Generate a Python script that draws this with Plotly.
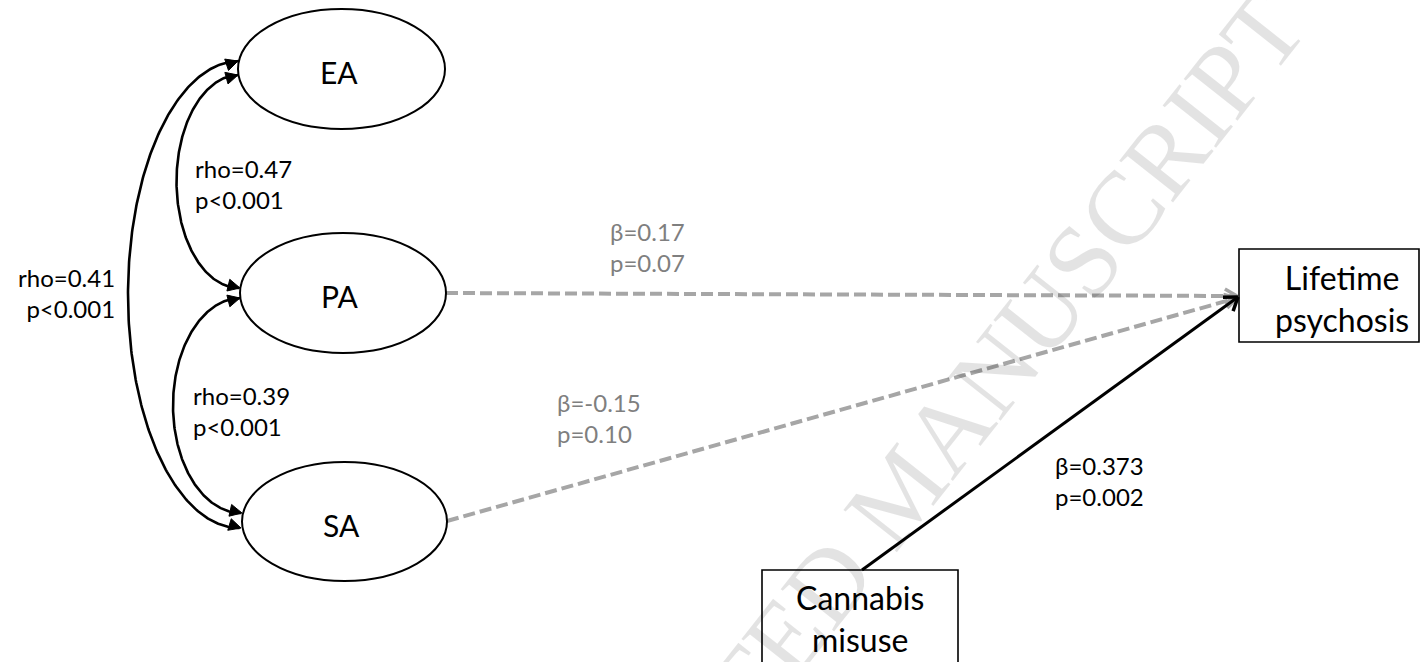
import numpy as np
import plotly.graph_objects as go

# ---------------- data ----------------
latent = ["EA", "PA", "SA"]
outcome_label = "Lifetime<br>psychosis"
exposure_label = "Cannabis<br>misuse"

rho_pairs = [("EA", "PA"), ("PA", "SA"), ("EA", "SA")]
rho_vals = [0.47, 0.39, 0.41]
rho_p = ["p<0.001", "p<0.001", "p<0.001"]

path_from = ["PA", "SA", "Cannabis"]
beta_vals = [0.17, -0.15, 0.373]
beta_p = ["p=0.07", "p=0.10", "p=0.002"]
beta_sig = [False, False, True]

watermark = "ACCEPTED MANUSCRIPT"

# ---------------- layout geometry (pixels) ----------------
W, H = 1421, 662
ELL = {"EA": (238, 9, 445, 129), "PA": (240, 233, 446, 353), "SA": (242, 462, 447, 581)}
BOX = {"Lifetime": (1239, 249, 1419, 342), "Cannabis": (762, 570, 958, 700)}
BOX_TEXT = {"Lifetime": (1342, 298), "Cannabis": (860, 618)}
CURVES = {("EA", "PA"): ((238, 75), (240, 288), 176.5),
          ("PA", "SA"): ((240, 298), (242, 513), 173),
          ("EA", "SA"): ((238, 61), (241, 528), 128)}
RHO_POS = {("EA", "PA"): (193, 184, "left"),
           ("PA", "SA"): (191, 411, "left"),
           ("EA", "SA"): (117, 292.5, "right")}
PATHS = {"PA": ((446, 293), (1237, 296)),
         "SA": ((447, 521), (1237, 298)),
         "Cannabis": ((862, 570), (1238, 297))}
BETA_POS = {"PA": (608, 246.5), "SA": (555, 417.5), "Cannabis": (1053, 481)}

FONT = "Lato, 'Open Sans', sans-serif"
GRAY_LINE = "#a6a6a6"
GRAY_TEXT = "#7f7f7f"

fig = go.Figure()


def tri(tip, d, L=12, w=6):
    d = np.array(d, float)
    d /= np.linalg.norm(d)
    n = np.array([-d[1], d[0]])
    tip = np.array(tip, float)
    base = tip - L * d
    p1, p2 = base + w * n, base - w * n
    return [tip[0], p1[0], p2[0], tip[0]], [tip[1], p1[1], p2[1], tip[1]]


def vhead(tip, d, L=15, ang=35):
    d = np.array(d, float)
    d /= np.linalg.norm(d)
    xs, ys = [], []
    for s in (1, -1):
        a = np.radians(s * ang)
        r = np.array([d[0] * np.cos(a) - d[1] * np.sin(a), d[0] * np.sin(a) + d[1] * np.cos(a)])
        p = np.array(tip) - L * r
        xs += [p[0], tip[0]]
        ys += [p[1], tip[1]]
        if s == 1:
            xs.append(None); ys.append(None)
    return xs, ys


# correlation curves (half-ellipse arcs) with filled arrowheads at both ends
for pair in rho_pairs:
    (xt, yt), (xb, yb), xl = CURVES[pair]
    cx, cy = (xt + xb) / 2, (yt + yb) / 2
    b = (yb - yt) / 2
    a = cx - xl
    th = np.linspace(0, np.pi, 240)
    fig.add_trace(go.Scatter(x=cx - a * np.sin(th), y=cy - b * np.cos(th), mode="lines",
                             line=dict(color="black", width=2.6), hoverinfo="skip"))
    for tip, t in (((xt, yt), 0.3), ((xb, yb), np.pi - 0.3)):
        back = (cx - a * np.sin(t), cy - b * np.cos(t))
        tx, ty = tri(tip, (tip[0] - back[0], tip[1] - back[1]))
        fig.add_trace(go.Scatter(x=tx, y=ty, mode="lines", fill="toself", fillcolor="black",
                                 line=dict(color="black", width=1), hoverinfo="skip"))

# regression paths
order = sorted(range(len(path_from)), key=lambda i: beta_sig[i])
for i in order:
    src = path_from[i]
    (x0, y0), (x1, y1) = PATHS[src]
    sig = beta_sig[i]
    col = "black" if sig else GRAY_LINE
    fig.add_trace(go.Scatter(x=[x0, x1], y=[y0, y1], mode="lines",
                             line=dict(color=col, width=3 if sig else 4,
                                       dash="solid" if sig else "12px,5px"),
                             hoverinfo="skip"))
    hx, hy = vhead((x1, y1), (x1 - x0, y1 - y0), L=15 if sig else 14, ang=35 if sig else 30)
    fig.add_trace(go.Scatter(x=hx, y=hy, mode="lines", line=dict(color=col, width=3.5),
                             hoverinfo="skip"))

# node shapes
shapes = []
for k in latent:
    x0, y0, x1, y1 = ELL[k]
    shapes.append(dict(type="circle", xref="x", yref="y", x0=x0, x1=x1, y0=y0, y1=y1,
                       line=dict(color="black", width=2), fillcolor="white", layer="above"))
for k, (x0, y0, x1, y1) in BOX.items():
    shapes.append(dict(type="rect", xref="x", yref="y", x0=x0, x1=x1, y0=y0, y1=y1,
                       line=dict(color="black", width=1.6), fillcolor="rgba(0,0,0,0)", layer="above"))

annotations = []
# watermark
annotations.append(dict(text=watermark, x=900, y=490, xref="x", yref="y", showarrow=False,
                        textangle=-51.7, font=dict(family="'Liberation Serif', serif", size=104,
                                                   color="rgba(0,0,0,0.11)")))
for k in latent:
    x0, y0, x1, y1 = ELL[k]
    annotations.append(dict(text=k, x=(x0 + x1) / 2 - 3, y=(y0 + y1) / 2 + 3, xref="x", yref="y",
                            showarrow=False, font=dict(family=FONT, size=30, color="black")))
for k, lab in (("Lifetime", outcome_label), ("Cannabis", exposure_label)):
    tx, ty = BOX_TEXT[k]
    annotations.append(dict(text=lab, x=tx, y=ty, xref="x", yref="y", showarrow=False,
                            font=dict(family=FONT, size=32, color="black")))
for pair, v, p in zip(rho_pairs, rho_vals, rho_p):
    x, y, anc = RHO_POS[pair]
    annotations.append(dict(text=f"rho={v:.2f}<br>{p}", x=x, y=y, xref="x", yref="y",
                            xanchor=anc, align=anc, showarrow=False,
                            font=dict(family=FONT, size=24, color="black")))
for src, v, p, sig in zip(path_from, beta_vals, beta_p, beta_sig):
    x, y = BETA_POS[src]
    annotations.append(dict(text=f"β={v:g}<br>{p}", x=x, y=y, xref="x", yref="y",
                            xanchor="left", align="left", showarrow=False,
                            font=dict(family=FONT, size=24, color="black" if sig else GRAY_TEXT)))

fig.update_layout(
    width=W, height=H, margin=dict(l=0, r=0, t=0, b=0, pad=0),
    paper_bgcolor="white", plot_bgcolor="white", showlegend=False,
    xaxis=dict(range=[0, W], visible=False, fixedrange=True),
    yaxis=dict(range=[H, 0], visible=False, fixedrange=True),
    shapes=shapes, annotations=annotations,
)

fig.write_html("out.html", config={"displayModeBar": False},
               post_script="document.body.style.margin='0';document.body.style.overflow='hidden';")
